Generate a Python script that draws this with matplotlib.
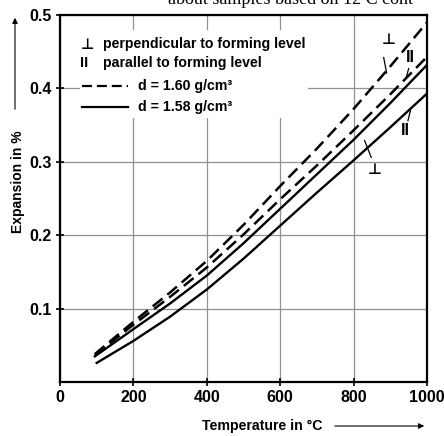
import matplotlib
matplotlib.use("Agg")
import matplotlib.pyplot as plt
from matplotlib.patches import FancyArrowPatch, Rectangle

# data
temp = [95, 200, 300, 400, 500, 600, 700, 800, 900, 1000]
perp_160 = [0.038, 0.082, 0.122, 0.165, 0.214, 0.267, 0.318, 0.372, 0.430, 0.490]
par_160 = [0.037, 0.078, 0.116, 0.156, 0.201, 0.249, 0.295, 0.343, 0.392, 0.443]
perp_158 = [0.035, 0.072, 0.107, 0.145, 0.189, 0.236, 0.283, 0.330, 0.380, 0.432]
temp_par_158 = [100, 200, 300, 400, 500, 600, 700, 800, 900, 1000]
par_158 = [0.026, 0.056, 0.089, 0.126, 0.168, 0.213, 0.258, 0.302, 0.347, 0.393]

x_ticks = [0, 200, 400, 600, 800, 1000]
y_ticks = [0.1, 0.2, 0.3, 0.4, 0.5]
y_labels = ["0.1", "0.2", "0.3", "0.4", "0.5"]

plt.rcParams["font.family"] = ["Liberation Sans", "DejaVu Sans"]
plt.rcParams["font.weight"] = "bold"

W, H = 444, 436
fig = plt.figure(figsize=(W / 100, H / 100), dpi=100)
ax = fig.add_axes([60 / W, 1 - 382 / H, (427 - 60) / W, (382 - 15) / H])

ax.set_xlim(0, 1000)
ax.set_ylim(0, 0.5)
ax.set_xticks(x_ticks)
ax.set_yticks(y_ticks)
ax.set_yticklabels(y_labels)
ax.tick_params(direction="inout", length=6, width=1.2, labelsize=11.5, pad=3)
for lab in ax.get_xticklabels() + ax.get_yticklabels():
    lab.set_fontweight("bold")
for s in ax.spines.values():
    s.set_linewidth(1.6)
ax.grid(True, color="#909090", lw=0.9)
ax.set_axisbelow(True)

dash = (0, (5, 2.5))
ax.plot(temp, perp_160, color="black", lw=1.8, linestyle=dash)
ax.plot(temp, par_160, color="black", lw=1.8, linestyle=dash)
ax.plot(temp, perp_158, color="black", lw=1.7)
ax.plot(temp_par_158, par_158, color="black", lw=1.7)

# curve markers
sym = dict(fontsize=11, ha="center", va="center", family="DejaVu Sans", fontweight="bold")
ax.text(895, 0.466, "⊥", **sym)
ax.plot([882, 890], [0.442, 0.421], color="black", lw=0.9)
ax.text(955, 0.442, "II", fontsize=11.5, ha="center", va="center")
ax.plot([950, 943], [0.427, 0.414], color="black", lw=0.9)
ax.text(940, 0.342, "II", fontsize=11.5, ha="center", va="center")
ax.plot([955, 948], [0.370, 0.356], color="black", lw=0.9)
ax.text(858, 0.290, "⊥", **sym)
ax.plot([830, 848], [0.329, 0.306], color="black", lw=0.9)

# legend drawn by hand, grid blanked behind it
tf = ax.transAxes
ax.add_patch(Rectangle((0.054, 0.72), 0.622, 0.24, transform=tf, facecolor="white",
                       edgecolor="none", zorder=1.5))
ax.text(0.075, 0.920, "⊥", transform=tf, fontsize=10.5, va="center", ha="center",
        family="DejaVu Sans", fontweight="bold")
ax.text(0.118, 0.920, "perpendicular to forming level", transform=tf, fontsize=10.2, va="center")
ax.text(0.066, 0.868, "II", transform=tf, fontsize=10.5, va="center", ha="center")
ax.text(0.118, 0.868, "parallel to forming level", transform=tf, fontsize=10.2, va="center")
ax.plot([0.06, 0.185], [0.806, 0.806], transform=tf, color="black", lw=1.6, linestyle=(0, (4.5, 2.2)))
ax.text(0.212, 0.806, "d = 1.60 g/cm³", transform=tf, fontsize=10.2, va="center")
ax.plot([0.06, 0.185], [0.748, 0.748], transform=tf, color="black", lw=1.6)
ax.text(0.212, 0.748, "d = 1.58 g/cm³", transform=tf, fontsize=10.2, va="center")

# axis titles with arrows
fig.text(18 / W, 1 - 182 / H, "Expansion in %", rotation=90, ha="center", va="center", fontsize=10)
fig.add_artist(FancyArrowPatch((15 / W, 1 - 112 / H), (15 / W, 1 - 15 / H),
               transform=fig.transFigure, arrowstyle="-|>", mutation_scale=8, lw=0.8, color="black"))
fig.text(262 / W, 1 - 426 / H, "Temperature in °C", ha="center", va="center", fontsize=10.2)
fig.add_artist(FancyArrowPatch((332 / W, 1 - 426 / H), (427 / W, 1 - 426 / H),
               transform=fig.transFigure, arrowstyle="-|>", mutation_scale=8, lw=0.8, color="black"))

# cut-off caption line at the very top
fig.text(290 / W, 1 - 4 / H, "about samples based on 12 C cont", ha="center", va="baseline",
         fontsize=13, family="Liberation Serif", fontweight="normal")

fig.savefig("out.png", dpi=100)
